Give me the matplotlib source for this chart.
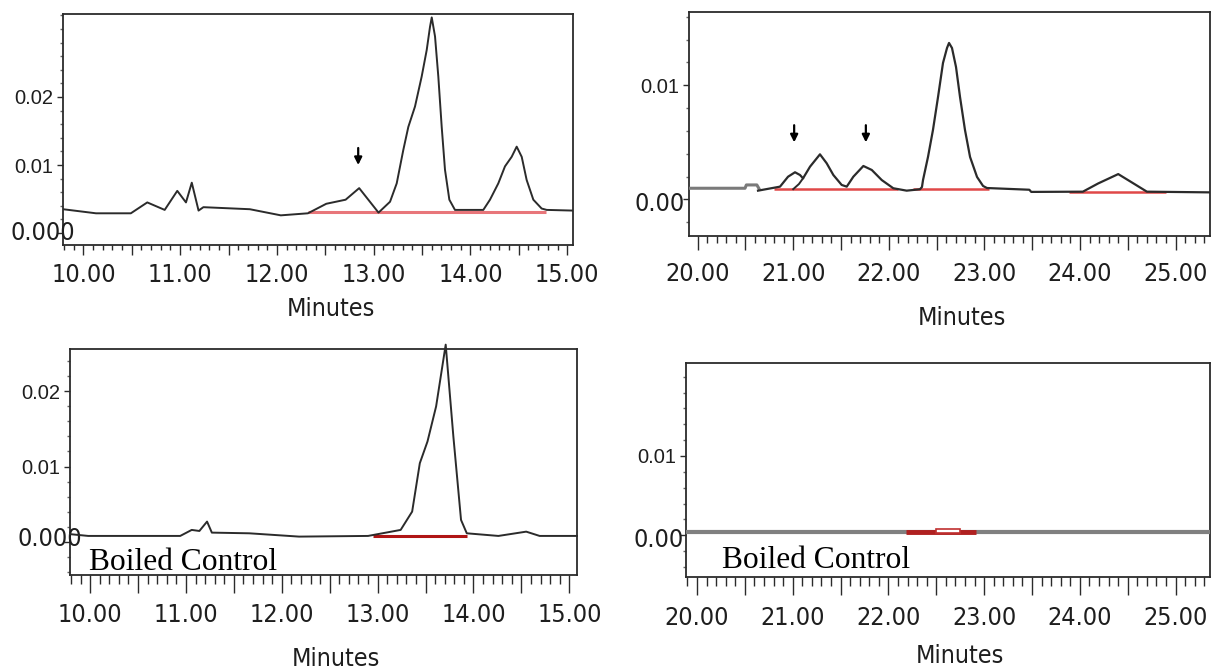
import matplotlib
matplotlib.use("Agg")
import matplotlib.pyplot as plt
from matplotlib.ticker import MultipleLocator, FixedLocator
from matplotlib.patches import Rectangle
from matplotlib import font_manager as fm

# ── data ─────────────────────────────────────────────────────────────────────
# top-left: 10-15 min window
p1_t = [9.79, 10.13, 10.49, 10.66, 10.84, 10.97, 11.06, 11.12, 11.19, 11.24,
        11.72, 12.04, 12.32, 12.51, 12.71, 12.85, 13.05, 13.169, 13.238, 13.306,
        13.358, 13.427, 13.496, 13.548, 13.582, 13.600, 13.634, 13.668, 13.703, 13.737,
        13.782, 13.840, 14.133, 14.202, 14.288, 14.357, 14.426, 14.478, 14.530, 14.581,
        14.650, 14.736, 14.788, 15.06]
p1_v = [0.0035, 0.0029, 0.0029, 0.0045, 0.0034, 0.0062, 0.0045, 0.0074, 0.0033, 0.0038,
        0.0035, 0.0026, 0.0029, 0.0043, 0.0049, 0.0066, 0.0030, 0.0046, 0.0073, 0.0122,
        0.0156, 0.0186, 0.0230, 0.0269, 0.0303, 0.0317, 0.0289, 0.0230, 0.0156, 0.0093,
        0.0049, 0.0034, 0.0034, 0.0049, 0.0073, 0.0098, 0.0112, 0.0127, 0.0112, 0.0078,
        0.0049, 0.0036, 0.0034, 0.0033]
p1_base = [(12.32, 14.78, 0.0031)]
p1_arrows = [12.84]
p1_arrow_tip, p1_arrow_tail = 0.0100, 0.0125

# top-right: 20-25 min window
p2_lead_t = [19.91, 20.496, 20.51, 20.62, 20.64]
p2_lead_v = [0.00098, 0.00098, 0.00127, 0.00127, 0.00098]
p2_t = [20.632, 20.862, 20.946, 21.019, 21.071, 21.103, 21.176, 21.280, 21.350, 21.420,
        21.507, 21.560, 21.629, 21.734, 21.822, 21.926, 22.047, 22.187, 22.326, 22.347,
        22.358, 22.410, 22.462, 22.515, 22.567, 22.609, 22.630, 22.661, 22.703, 22.745,
        22.797, 22.850, 22.923, 22.986, 23.027, 23.47, 23.49, 24.03, 24.19, 24.40,
        24.56, 24.70, 25.36]
p2_v = [0.00077, 0.00112, 0.00199, 0.00238, 0.00214, 0.00185, 0.00287, 0.00395, 0.00317, 0.00214,
        0.00127, 0.00112, 0.00199, 0.00293, 0.00258, 0.00170, 0.00098, 0.00077, 0.00089, 0.00109,
        0.00170, 0.00372, 0.00608, 0.00897, 0.01195, 0.01326, 0.01370, 0.01326, 0.01160, 0.00897,
        0.00608, 0.00372, 0.00197, 0.00118, 0.00100, 0.00085, 0.00066, 0.00068, 0.00140, 0.00222,
        0.00140, 0.00068, 0.00062]
p2_split_t = [21.00, 21.06, 21.103]
p2_split_v = [0.00090, 0.00135, 0.00185]
p2_base = [(20.80, 22.10, 0.00090), (22.25, 23.05, 0.00090), (23.88, 24.90, 0.00062)]
p2_arrows = [21.01, 21.76]
p2_arrow_tip, p2_arrow_tail = 0.0050, 0.0065

# bottom-left: boiled control, 10-15 min
p3_t = [9.79, 9.98, 10.94, 11.06, 11.14, 11.22, 11.27, 11.66, 12.18, 12.90,
        13.24, 13.36, 13.44, 13.52, 13.61, 13.71, 13.79, 13.87, 13.93, 14.26,
        14.55, 14.69, 15.08]
p3_v = [0.0010, 0.00076, 0.00076, 0.00156, 0.00142, 0.00267, 0.0012, 0.00111, 0.00067, 0.00076,
        0.00156, 0.0040, 0.01044, 0.01333, 0.0180, 0.02622, 0.0140, 0.00289, 0.00111, 0.00076,
        0.00133, 0.00076, 0.00076]
p3_base = [(12.95, 13.93, 0.00076)]

# bottom-right: boiled control, 20-25 min
p4_t = [19.885, 25.36]
p4_v = [0.00042, 0.00042]
p4_base = [(22.18, 22.92, 0.00042)]
p4_box = (22.50, 22.75, 0.0003, 0.0008)

# ── fonts ────────────────────────────────────────────────────────────────────
names = {f.name for f in fm.fontManager.ttflist}
if "Liberation Sans Narrow" in names:
    NARROW = fm.FontProperties(family="Liberation Sans Narrow", size=20)
else:
    NARROW = fm.FontProperties(family="DejaVu Sans", stretch="condensed", size=18)
REGULAR = fm.FontProperties(family="Liberation Sans", size=14.5)
SERIF = fm.FontProperties(family="Liberation Serif", size=22.7)

W, H = 1215, 669
fig = plt.figure(figsize=(W / 100, H / 100), dpi=100)
fig.patch.set_facecolor("white")

LINE = "#2b2b2b"
TXT = "#1e1e1e"


def panel(l, t, r, b, xlim, ylim, yticks, zero_lab, zero_x, zero_y,
          tick_len, xpad, lab_xy):
    ax = fig.add_axes([l / W, 1 - b / H, (r - l) / W, (b - t) / H])
    ax.set_xlim(*xlim)
    ax.set_ylim(*ylim)
    for s in ax.spines.values():
        s.set_linewidth(1.3)
        s.set_color(LINE)
    x0 = round(xlim[0])
    majors = [x0 + 0.5 * i for i in range(11)]
    ax.xaxis.set_major_locator(FixedLocator(majors))
    ax.xaxis.set_minor_locator(MultipleLocator(0.1))
    ax.set_xticklabels([f"{m:.2f}" if m == int(m) else "" for m in majors])
    ax.tick_params(axis="x", which="major", length=tick_len, width=1.0,
                   color=LINE, pad=xpad, labelcolor=TXT)
    ax.tick_params(axis="x", which="minor", length=tick_len * 0.5, width=1.0, color=LINE)
    for lab in ax.get_xticklabels():
        lab.set_fontproperties(NARROW)
    ax.yaxis.set_major_locator(FixedLocator([0] + yticks))
    ax.yaxis.set_minor_locator(MultipleLocator(0.002))
    ax.set_yticklabels([""] + [f"{v:.2f}" for v in yticks])
    ax.tick_params(axis="y", which="major", length=4, width=1.0, color=LINE,
                   pad=3, labelcolor=TXT)
    ax.tick_params(axis="y", which="minor", length=2.5, width=1.0, color="#666666")
    for lab in ax.get_yticklabels():
        lab.set_fontproperties(REGULAR)
    ax.text(zero_x, zero_y, zero_lab, transform=ax.get_yaxis_transform(),
            ha="right", va="center", fontproperties=NARROW, color=TXT, clip_on=False)
    ax.set_xlabel("Minutes", fontproperties=NARROW, color=TXT)
    ax.xaxis.set_label_coords(*lab_xy)
    return ax


def baselines(ax, segs, color, lw):
    for a, b_, v in segs:
        ax.plot([a, b_], [v, v], color=color, lw=lw, solid_capstyle="butt", zorder=3)


def arrows(ax, ts, tip, tail):
    for t in ts:
        ax.annotate("", xy=(t, tip), xytext=(t, tail),
                    arrowprops=dict(arrowstyle="-|>", color="black", lw=1.6,
                                    mutation_scale=11, shrinkA=0, shrinkB=0))


# ── top-left ─────────────────────────────────────────────────────────────────
ax1 = panel(63, 14, 573, 245, (9.789, 15.06), (-0.00176, 0.0322), [0.01, 0.02],
            "0.000", 0.024, 0.0, 7, 6, (0.525, -0.225))
ax1.plot(p1_t, p1_v, color=LINE, lw=1.4, zorder=4)
baselines(ax1, p1_base, "#e8767a", 2.2)
arrows(ax1, p1_arrows, p1_arrow_tip, p1_arrow_tail)

# ── top-right ────────────────────────────────────────────────────────────────
ax2 = panel(689, 12, 1210, 236, (19.91, 25.36), (-0.0032, 0.01641), [0.01],
            "0.00", -0.008, -0.0004, 10, 9, (0.524, -0.313))
ax2.plot(p2_lead_t, p2_lead_v, color="#7a7a7a", lw=2.2, zorder=4)
ax2.plot(p2_t, p2_v, color=LINE, lw=1.6, zorder=4)
ax2.plot(p2_split_t, p2_split_v, color=LINE, lw=1.4, zorder=4)
baselines(ax2, p2_base, "#e04848", 1.8)
arrows(ax2, p2_arrows, p2_arrow_tip, p2_arrow_tail)

# ── bottom-left ──────────────────────────────────────────────────────────────
ax3 = panel(70, 349, 577, 575, (9.79, 15.08), (-0.00444, 0.02564), [0.01, 0.02],
            "0.000", 0.024, 0.0003, 13, 7, (0.525, -0.319))
ax3.plot(p3_t, p3_v, color=LINE, lw=1.4, zorder=4, clip_on=False)
baselines(ax3, p3_base, "#b01515", 2.2)
ax3.text(0.0375, 0.022, "Boiled Control", transform=ax3.transAxes,
         ha="left", va="baseline", fontproperties=SERIF, color="black")

# ── bottom-right ─────────────────────────────────────────────────────────────
ax4 = panel(686, 363, 1210, 577, (19.885, 25.36), (-0.00527, 0.02173), [0.01],
            "0.00", -0.005, -0.00055, 13, 8, (0.523, -0.313))
ax4.plot(p4_t, p4_v, color="#808080", lw=3.0, zorder=3)
baselines(ax4, p4_base, "#b02020", 3.5)
bx0, bx1, by0, by1 = p4_box
ax4.add_patch(Rectangle((bx0, by0), bx1 - bx0, by1 - by0, facecolor="white",
                        edgecolor="#c03030", lw=1.2, zorder=5))
ax4.text(0.069, 0.042, "Boiled Control", transform=ax4.transAxes,
         ha="left", va="baseline", fontproperties=SERIF, color="black")

fig.savefig("out.png", dpi=100, facecolor="white")
